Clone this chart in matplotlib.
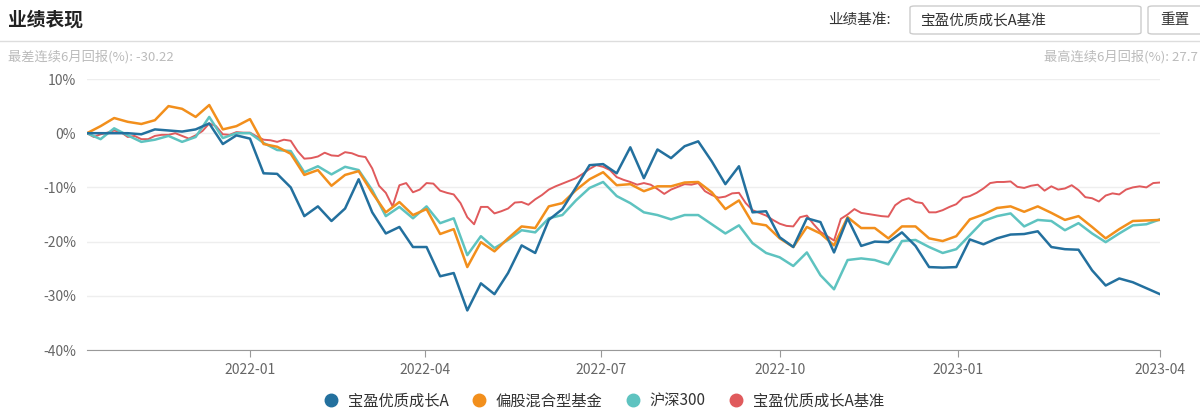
import matplotlib.pyplot as plt
import matplotlib.patches as mpatches
from matplotlib.lines import Line2D
import pandas as pd

plt.rcParams['font.family'] = ['Noto Sans CJK SC', 'DejaVu Sans']

# 周度数据 (累计收益率 %)
week_dates = pd.date_range("2021-10-09", periods=80, freq="7D")

fund_a = [
    0, 0, 0, 0, -0.2, 0.7, 0.5, 0.3, 0.7, 1.8,
    -2.0, -0.4, -1.0, -7.4, -7.5, -10.0, -15.3, -13.5, -16.2, -13.9,
    -8.5, -14.6, -18.5, -17.3, -21.0, -21.0, -26.4, -25.8, -32.7, -27.7,
    -29.7, -25.8, -20.7, -22.1, -16.0, -14.0, -10.0, -5.9, -5.7, -7.4,
    -2.6, -8.3, -3.0, -4.6, -2.4, -1.5, -5.2, -9.4, -6.1, -14.6,
    -14.4, -19.2, -21.0, -15.7, -16.4, -22.0, -15.7, -20.8, -20.0, -20.1,
    -18.3, -20.8, -24.7, -24.8, -24.7, -19.6, -20.5, -19.4, -18.7, -18.6,
    -18.1, -21.0, -21.4, -21.5, -25.3, -28.1, -26.8, -27.5, -28.6, -29.7,
]

mixed_fund = [
    0, 1.3, 2.8, 2.1, 1.7, 2.4, 5.0, 4.5, 3.0, 5.2,
    0.7, 1.3, 2.6, -2.0, -2.5, -3.8, -7.7, -6.8, -9.7, -7.7,
    -7.0, -11.0, -14.6, -12.7, -15.1, -14.0, -18.6, -17.7, -24.7, -20.1,
    -21.8, -19.4, -17.2, -17.5, -13.5, -12.9, -10.5, -8.5, -7.2, -9.6,
    -9.4, -10.7, -9.8, -9.8, -9.1, -9.0, -10.9, -14.0, -12.4, -16.6,
    -17.0, -19.4, -21.0, -17.3, -18.5, -20.7, -15.5, -17.5, -17.5, -19.4,
    -17.2, -17.2, -19.4, -19.9, -19.0, -15.9, -15.0, -13.8, -13.5, -14.5,
    -13.5, -14.7, -16.0, -15.3, -17.3, -19.4, -17.7, -16.2, -16.1, -16.0,
]

hs300 = [
    0, -1.1, 0.9, -0.4, -1.6, -1.2, -0.5, -1.6, -0.7, 3.0,
    -0.9, 0.0, 0.0, -1.8, -3.1, -3.3, -7.2, -6.1, -7.6, -6.2,
    -6.8, -10.5, -15.3, -13.6, -15.7, -13.5, -16.6, -15.7, -22.5, -19.0,
    -21.2, -19.7, -17.9, -18.3, -15.7, -15.1, -12.4, -10.1, -9.0, -11.6,
    -12.9, -14.6, -15.1, -15.9, -15.1, -15.1, -16.8, -18.5, -17.0, -20.3,
    -22.1, -22.9, -24.5, -22.0, -26.2, -28.8, -23.4, -23.1, -23.4, -24.2,
    -19.9, -19.7, -21.0, -22.1, -21.4, -18.8, -16.2, -15.3, -14.8, -17.2,
    -16.0, -16.2, -17.9, -16.6, -18.5, -20.1, -18.5, -17.0, -16.8, -15.9,
]

# 基准数据 (每3.5天一个点)
bench_dates = pd.date_range("2021-10-09", periods=159, freq="84h")
benchmark = [
    0, -0.7, -0.2, 0.1, 0.5, 0.2, -0.7, -0.5, -1.1, -1.1,
    -0.5, -0.3, -0.3, 0, -0.5, -1.0, -0.4, 0.4, 1.8, 1.3,
    -0.2, -0.3, 0.2, 0.1, 0.1, -0.6, -1.2, -1.3, -1.6, -1.2,
    -1.4, -3.3, -4.7, -4.6, -4.3, -3.6, -4.1, -4.2, -3.5, -3.7,
    -4.2, -4.4, -6.5, -9.7, -11.0, -13.5, -9.6, -9.2, -10.9, -10.4,
    -9.2, -9.3, -10.6, -11.0, -11.3, -12.9, -15.5, -16.8, -13.6, -13.6,
    -14.8, -14.4, -13.9, -12.8, -12.7, -13.2, -12.2, -11.4, -10.4, -9.8,
    -9.3, -8.8, -8.3, -7.5, -6.6, -5.9, -6.2, -6.8, -8.1, -8.6,
    -9.0, -9.5, -9.2, -9.5, -10.3, -11.2, -10.4, -9.9, -9.4, -9.5,
    -9.2, -10.7, -11.4, -11.9, -11.7, -11.1, -11.0, -12.9, -14.2, -14.7,
    -15.2, -16.0, -16.7, -17.1, -17.2, -15.5, -15.2, -16.8, -18.2, -19.0,
    -19.8, -15.8, -15.0, -14.0, -14.7, -14.9, -15.1, -15.3, -15.4, -13.3,
    -12.4, -12.0, -12.7, -12.9, -14.6, -14.6, -14.2, -13.6, -13.1, -11.9,
    -11.6, -11.0, -10.2, -9.2, -9.0, -9.0, -8.9, -9.9, -10.1, -9.7,
    -9.5, -10.6, -9.8, -10.4, -10.2, -9.6, -10.5, -11.8, -12.0, -12.6,
    -11.5, -11.1, -11.3, -10.4, -10.0, -9.8, -10.0, -9.2, -9.1,
]

series_names = ["宝盈优质成长A", "偏股混合型基金", "沪深300", "宝盈优质成长A基准"]
colors = ["#23709e", "#f28f1c", "#5ec3c0", "#e05a5c"]

tick_dates = pd.to_datetime(["2022-01-01", "2022-04-01", "2022-07-01",
                             "2022-10-01", "2023-01-01", "2023-04-15"])
tick_labels = ["2022-01", "2022-04", "2022-07", "2022-10", "2023-01", "2023-04"]
y_ticks = [10, 0, -10, -20, -30, -40]

fig = plt.figure(figsize=(12, 4.15), dpi=100)
ax = fig.add_axes([87 / 1200, 1 - 350 / 415, (1160 - 87) / 1200, (350 - 79) / 415])

# 画线 (基准在底层)
ax.plot(bench_dates, benchmark, color=colors[3], lw=1.4, zorder=2)
ax.plot(week_dates, hs300, color=colors[2], lw=1.8, zorder=3)
ax.plot(week_dates, mixed_fund, color=colors[1], lw=1.8, zorder=4)
ax.plot(week_dates, fund_a, color=colors[0], lw=1.8, zorder=5)

ax.set_xlim(week_dates[0], pd.Timestamp("2023-04-15"))
ax.set_ylim(-40, 10)
ax.set_yticks(y_ticks)
ax.set_yticklabels([f"{v}%" for v in y_ticks])
ax.set_xticks(tick_dates)
ax.set_xticklabels(tick_labels)
ax.grid(axis="y", color="#eeeeee", lw=1)
for s in ["top", "right", "left"]:
    ax.spines[s].set_visible(False)
ax.spines["bottom"].set_color("#999999")
ax.tick_params(axis="y", length=0, labelsize=10, labelcolor="#666666", pad=8)
ax.tick_params(axis="x", length=5, color="#999999", labelsize=10, labelcolor="#666666", pad=4)

# 头部
fig.text(8 / 1200, 1 - 20 / 415, "业绩表现", fontsize=13.5, fontweight="bold", color="#222222", va="center")
fig.add_artist(Line2D([0, 1], [1 - 41 / 415, 1 - 41 / 415], color="#dddddd", lw=1))
fig.text(8 / 1200, 1 - 57 / 415, "最差连续6月回报(%): -30.22", fontsize=9.5, color="#bbbbbb", va="center")
fig.text(1198 / 1200, 1 - 57 / 415, "最高连续6月回报(%): 27.7", fontsize=9.5, color="#bbbbbb", va="center", ha="right")

fig.text(828 / 1200, 1 - 20 / 415, "业绩基准:", fontsize=10.5, color="#333333", va="center")
fig.add_artist(mpatches.FancyBboxPatch((910 / 1200, 1 - 34 / 415), 231 / 1200, 28 / 415,
                                       boxstyle="round,pad=0,rounding_size=0.004",
                                       transform=fig.transFigure, fc="white", ec="#cccccc", lw=1))
fig.text(920 / 1200, 1 - 20 / 415, "宝盈优质成长A基准", fontsize=10.5, color="#333333", va="center")
fig.add_artist(mpatches.FancyBboxPatch((1148 / 1200, 1 - 34 / 415), 60 / 1200, 28 / 415,
                                       boxstyle="round,pad=0,rounding_size=0.004",
                                       transform=fig.transFigure, fc="white", ec="#cccccc", lw=1))
fig.text(1175 / 1200, 1 - 20 / 415, "重置", fontsize=10.5, color="#333333", va="center", ha="center")

# 图例
handles = [Line2D([], [], marker="o", ls="", ms=9, color=c) for c in colors]
fig.legend(handles, series_names, loc="center", bbox_to_anchor=(0.5, 1 - 401 / 415), ncol=4,
           frameon=False, fontsize=11, handletextpad=0.1, columnspacing=1.0,
           labelcolor="#333333")

fig.savefig("out.png", dpi=100)
